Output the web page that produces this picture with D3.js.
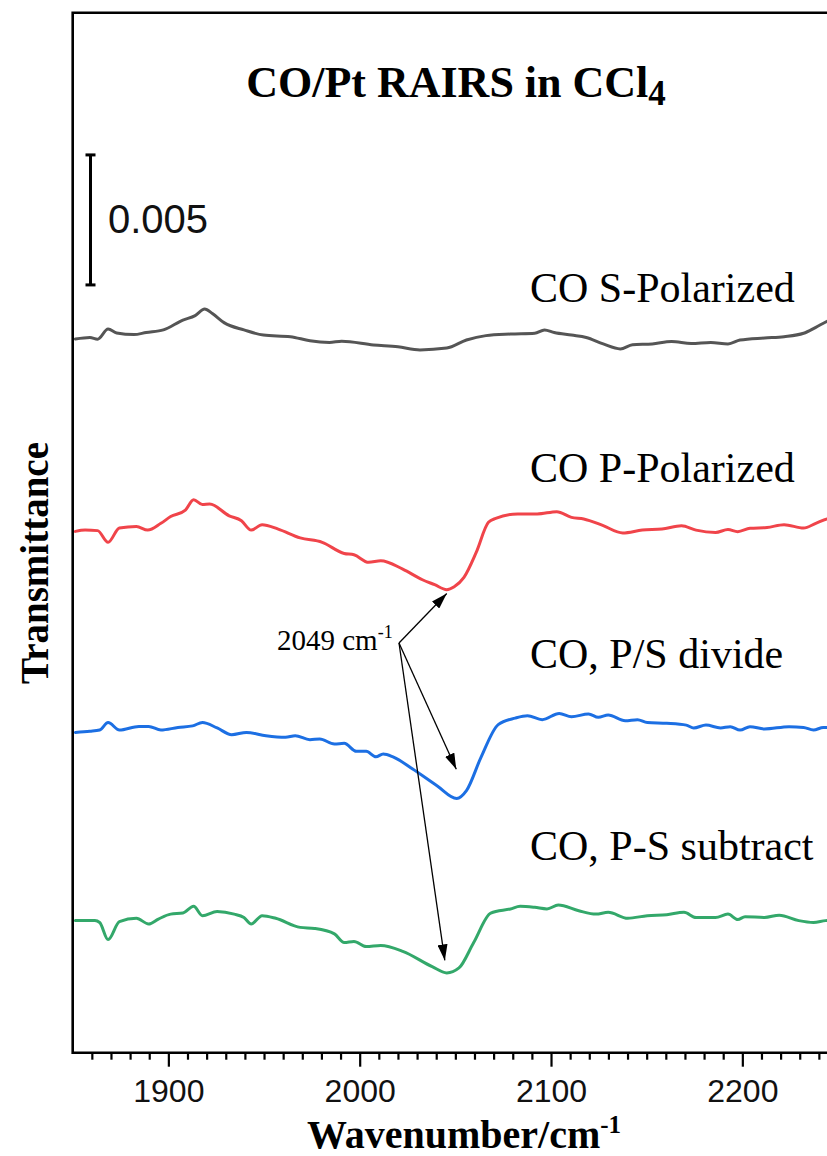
<!DOCTYPE html>
<html>
<head>
<meta charset="utf-8">
<script src="https://cdn.jsdelivr.net/npm/d3@7/dist/d3.min.js"></script>
<style>
  html, body { margin: 0; padding: 0; background: #ffffff; }
  svg { display: block; }
</style>
</head>
<body>
<svg id="chart" width="827" height="1156"></svg>
<script>
// CO on Pt, RAIRS in CCl4 — stacked transmittance spectra (values in units of 1e-3, offset per trace)

const sWave = [1851.4,1859,1863,1868.5,1873,1882,1888.4,1897.4,1907.6,1914,1919,1923,1929.3,1939.5,1949.7,1963.8,1974,1984.2,1990.6,2007.2,2020,2031.5,2045.5,2055.8,2066,2078.8,2091.5,2096.6,2101.7,2110.7,2118.4,2127.3,2136.2,2142.6,2152.9,2163,2173.3,2183.5,2192.5,2198.8,2211.6,2221.8,2232,2238.4,2244.3,2250];
const sVal  = [27.45,27.51,27.44,27.83,27.68,27.62,27.70,27.80,28.18,28.35,28.60,28.43,28.07,27.80,27.60,27.54,27.38,27.32,27.36,27.22,27.15,27.03,27.10,27.41,27.58,27.64,27.67,27.80,27.70,27.60,27.51,27.26,27.07,27.23,27.26,27.35,27.28,27.32,27.26,27.41,27.49,27.54,27.67,27.90,28.13,28.30];

const pWave = [1851.4,1856.5,1863,1868.5,1874.4,1883.3,1889.2,1896.1,1901.2,1908.9,1913.2,1917.8,1921.6,1931.8,1938.2,1943.3,1949,1957.4,1968.9,1980.4,1991.9,1997,2004.7,2011,2022.5,2032.8,2039.2,2045.5,2049.4,2054.5,2060.9,2067.3,2071.1,2082.6,2092.8,2103,2110.7,2117.1,2127.3,2137.5,2147.7,2158,2168.2,2175.8,2186,2192.5,2197.6,2204,2212.9,2221.8,2232,2238.4,2244.3,2250];
const pVal  = [20.05,20.10,20.08,19.63,20.18,20.24,20.10,20.36,20.62,20.87,21.27,21.08,21.10,20.65,20.46,20.10,20.31,20.14,19.80,19.63,19.20,19.15,18.86,18.92,18.60,18.19,18.00,17.81,17.92,18.28,19.24,20.40,20.55,20.72,20.72,20.81,20.59,20.53,20.27,19.99,20.10,20.14,20.27,20.10,20.01,20.12,20.04,20.17,20.20,20.31,20.18,20.36,20.53,20.60];

const divWave = [1851.4,1859,1864.1,1868.5,1874.4,1884.6,1889.7,1896.1,1905,1912.7,1917.8,1925.5,1933.1,1940.8,1951,1961.2,1966.3,1974,1979.1,1986.8,1991.9,1998.3,2003.4,2008.5,2012.3,2017.4,2027.7,2040.4,2050.7,2055.8,2063.4,2072.4,2081.3,2087.7,2095.4,2104.3,2110.7,2119.6,2124.7,2129.9,2138.8,2145.2,2150.3,2160.5,2170.7,2174.6,2181,2188.6,2193.7,2198.8,2204,2211.6,2224.4,2232,2237.2,2242.3,2250];
const divVal  = [12.32,12.36,12.41,12.70,12.41,12.55,12.55,12.41,12.51,12.57,12.70,12.49,12.23,12.32,12.19,12.13,12.19,12.04,12.07,11.87,11.90,11.59,11.59,11.38,11.49,11.38,10.91,10.27,9.78,10.08,11.36,12.62,12.87,12.96,12.81,13.05,12.92,13.03,12.90,12.99,12.77,12.81,12.70,12.67,12.60,12.49,12.60,12.49,12.54,12.41,12.54,12.45,12.54,12.51,12.41,12.51,12.50];

const subWave = [1851.4,1861.6,1864.1,1868.5,1874.4,1883.3,1889.7,1894.8,1901.2,1907.6,1913.2,1917.8,1925.5,1934.4,1939.5,1943.3,1949,1956.1,1968.9,1976.4,1986.8,1991.9,1997,2003.4,2011,2022.5,2037.9,2045.5,2051.9,2059.6,2068.5,2078.8,2083.9,2091.5,2097.9,2103.8,2114.5,2123.5,2129.9,2140.1,2150.3,2160.5,2169.5,2175.8,2186,2192.5,2197.6,2201.4,2211.6,2219.3,2229.5,2237.2,2243.5,2250];
const subVal  = [5.08,5.08,5.01,4.35,5.04,5.17,4.95,5.14,5.33,5.37,5.63,5.27,5.43,5.33,5.20,4.95,5.27,5.17,4.82,4.78,4.57,4.24,4.28,4.08,4.12,3.90,3.31,3.07,3.26,4.24,5.37,5.53,5.63,5.59,5.53,5.68,5.46,5.33,5.40,5.17,5.27,5.31,5.40,5.20,5.20,5.33,5.12,5.23,5.20,5.29,5.08,5.01,5.08,5.10];

const seriesNames  = ["CO S-Polarized", "CO P-Polarized", "CO, P/S divide", "CO, P-S subtract"];
const seriesColors = ["#555555", "#F0444A", "#1C6FE3", "#33A86A"];
const seriesWaves  = [sWave, pWave, divWave, subWave];
const seriesValues = [sVal, pVal, divVal, subVal];

const xTickLabels = [1900, 2000, 2100, 2200];
const scaleBarValue = 0.005;       // length of the vertical scale bar
const scaleBarBase = 29.53;        // bottom of the bar, in 1e-3 units
const peakLabel = "2049 cm";
// arrow targets: [wavenumber, value (1e-3)]
const arrowTargets = [[2045.5, 17.66], [2050.5, 10.9], [2044.5, 3.55]];

const svg = d3.select("#chart");
const plot = { left: 72.7, right: 838, top: 12.7, bottom: 1052.7 };

const x = d3.scaleLinear().domain([1850, 2250]).range([plot.left, plot.right]);
const y = d3.scaleLinear().domain([0, 40]).range([plot.bottom, plot.top]);

const serif = "'Liberation Serif', 'Times New Roman', serif";
const sans  = "'Liberation Sans', Arial, sans-serif";

const defs = svg.append("defs");
// clip so traces stop at the frame
defs.append("clipPath").attr("id", "plotClip")
  .append("rect").attr("x", plot.left).attr("y", plot.top)
  .attr("width", plot.right - plot.left).attr("height", plot.bottom - plot.top);

// traces
const line = d3.line().x(d => x(d[0])).y(d => y(d[1])).curve(d3.curveMonotoneX);
const traces = svg.append("g").attr("clip-path", "url(#plotClip)");
seriesNames.forEach((name, i) => {
  const pts = seriesWaves[i].map((w, j) => [w, seriesValues[i][j]]);
  traces.append("path")
    .datum(pts)
    .attr("d", line)
    .attr("fill", "none")
    .attr("stroke", seriesColors[i])
    .attr("stroke-width", 3)
    .attr("stroke-linejoin", "round")
    .attr("stroke-linecap", "round");
});

// frame: left, top, bottom
svg.append("path")
  .attr("d", `M${plot.right},${plot.top}H${plot.left}V${plot.bottom}H${plot.right}`)
  .attr("fill", "none").attr("stroke", "#000").attr("stroke-width", 2.6);

// bottom axis: minor ticks every 10, major every 100
const minorAxis = d3.axisBottom(x)
  .tickValues(d3.range(1860, 2251, 10).filter(v => v % 100 !== 0))
  .tickSize(7).tickFormat("");
const majorAxis = d3.axisBottom(x)
  .tickValues(xTickLabels)
  .tickSize(14).tickPadding(13).tickFormat(d3.format("d"));

const gMinor = svg.append("g").attr("transform", `translate(0,${plot.bottom})`).call(minorAxis);
const gMajor = svg.append("g").attr("transform", `translate(0,${plot.bottom})`).call(majorAxis);
[gMinor, gMajor].forEach(g => {
  g.select(".domain").remove();
  g.selectAll(".tick line").attr("stroke", "#000").attr("stroke-width", 2.2);
});
gMajor.selectAll(".tick text")
  .attr("font-family", sans).attr("font-size", 32).attr("fill", "#111");

// axis titles
const xTitle = svg.append("text")
  .attr("x", 464).attr("y", 1148).attr("text-anchor", "middle")
  .attr("font-family", serif).attr("font-weight", "bold").attr("font-size", 40).attr("fill", "#000");
xTitle.append("tspan").text("Wavenumber/cm");
xTitle.append("tspan").attr("dy", -15).attr("font-size", 25).text("-1");

svg.append("text")
  .attr("transform", "translate(48,563) rotate(-90)")
  .attr("text-anchor", "middle")
  .attr("font-family", serif).attr("font-weight", "bold").attr("font-size", 39).attr("fill", "#000")
  .text("Transmittance");

// title
const title = svg.append("text")
  .attr("x", 456).attr("y", 97).attr("text-anchor", "middle")
  .attr("font-family", serif).attr("font-weight", "bold").attr("font-size", 44).attr("fill", "#000");
title.append("tspan").text("CO/Pt RAIRS in CCl");
title.append("tspan").attr("dy", 8).attr("font-size", 35).text("4");

// scale bar
const barX = 90.5, barTop = y(scaleBarBase + scaleBarValue * 1000), barBot = y(scaleBarBase);
const bar = svg.append("g").attr("stroke", "#000").attr("stroke-width", 3);
bar.append("line").attr("x1", barX).attr("x2", barX).attr("y1", barTop).attr("y2", barBot);
bar.append("line").attr("x1", barX - 5).attr("x2", barX + 5).attr("y1", barTop).attr("y2", barTop);
bar.append("line").attr("x1", barX - 5).attr("x2", barX + 5).attr("y1", barBot).attr("y2", barBot);
svg.append("text")
  .attr("x", 108).attr("y", 233)
  .attr("font-family", sans).attr("font-size", 40).attr("fill", "#111")
  .text(String(scaleBarValue));

// series labels
const labelY = [302, 482, 668, 860];
seriesNames.forEach((name, i) => {
  svg.append("text")
    .attr("x", 530).attr("y", labelY[i])
    .attr("font-family", serif).attr("font-size", 42).attr("fill", "#000")
    .text(name);
});

// peak annotation with arrows
const ann = svg.append("text")
  .attr("x", 277).attr("y", 650)
  .attr("font-family", serif).attr("font-size", 29).attr("fill", "#000");
ann.append("tspan").text(peakLabel);
ann.append("tspan").attr("dy", -12).attr("font-size", 18).text("-1");

defs.append("marker")
  .attr("id", "arrowHead").attr("viewBox", "0 0 16 10")
  .attr("refX", 16).attr("refY", 5)
  .attr("markerWidth", 16).attr("markerHeight", 10)
  .attr("markerUnits", "userSpaceOnUse").attr("orient", "auto")
  .append("path").attr("d", "M0,0L16,5L0,10Z").attr("fill", "#000");

const origin = [399, 643];
arrowTargets.forEach(t => {
  svg.append("line")
    .attr("x1", origin[0]).attr("y1", origin[1])
    .attr("x2", x(t[0])).attr("y2", y(t[1]))
    .attr("stroke", "#000").attr("stroke-width", 1.3)
    .attr("marker-end", "url(#arrowHead)");
});
</script>
</body>
</html>
